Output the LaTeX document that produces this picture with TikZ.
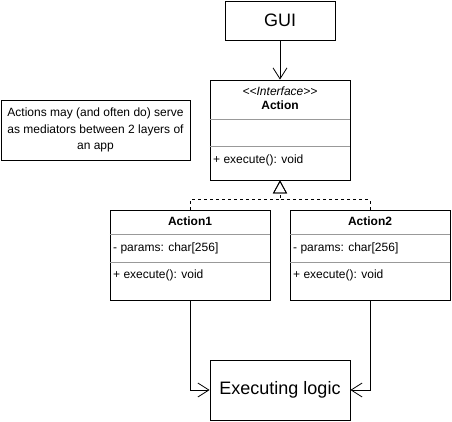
\documentclass[tikz,border=0pt]{standalone}
\usepackage{fontspec}
\setmainfont{Liberation Sans}
\usetikzlibrary{arrows.meta,positioning}

\begin{document}
\begin{tikzpicture}[x=1pt, y=-1pt,
    box/.style={rectangle, draw=black, line width=0.8pt, fill=white, inner sep=0pt},
    big/.style={font=\fontsize{18}{22}\selectfont},
    member/.style={font=\fontsize{12}{14}\selectfont, anchor=west, inner sep=0pt},
    title/.style={font=\fontsize{12}{14}\selectfont\bfseries, inner sep=0pt},
    sep/.style={line width=0.8pt, black!40},
    uses/.style={line width=0.8pt, -{Straight Barb[length=11pt,width=14pt]}},
    realizes/.style={line width=0.8pt, dash pattern=on 3pt off 3pt, -{Triangle[open,length=13pt,width=14pt]}}
  ]
    \useasboundingbox (0,0) rectangle (452,422);

    % Layers
    \node[box, big, minimum width=110, minimum height=39] (gui) at (280,20.5) {GUI};
    \node[box, big, minimum width=140, minimum height=60] (logic) at (280,390) {Executing logic};

    % Note
    \node[box, minimum width=189, minimum height=60, align=center, font=\fontsize{12}{16.5}\selectfont] (note) at (95.5,130) {Actions may (and often do) serve\\as mediators between 2 layers of\\an app};

    % Interface
    \node[box, minimum width=140, minimum height=100] (action) at (280,130) {};
    \node[font=\fontsize{12}{14}\selectfont\itshape, inner sep=0pt] (stereo) at (280,91) {<\kern0pt<Interface>\kern0pt>};
    \node[title] (actiontitle) at (280,105) {Action};
    \draw[sep] (action.west |- 0,119) -- (action.east |- 0,119);
    \draw[sep] (action.west |- 0,146) -- (action.east |- 0,146);
    \node[member] (actionop) at (213,160) {+ execute(): void};

    % Implementations
    \foreach \n/\x in {1/190, 2/370} {
      \node[box, minimum width=160, minimum height=90] (action\n) at (\x,255) {};
      \node[title] (action\n title) at (\x,221) {Action\n};
      \draw[sep] (action\n.west |- 0,234) -- (action\n.east |- 0,234);
      \node[member] (action\n attr) at (\x-77,248) {- params: char[256]};
      \draw[sep] (action\n.west |- 0,262) -- (action\n.east |- 0,262);
      \node[member] (action\n op) at (\x-77,275) {+ execute(): void};
    }

    % Connectors
    \draw[uses] (gui) -- (action);
    \draw[realizes] (action1.north) -- ++(0,-10) -| (action.south);
    \draw[realizes] (action2.north) -- ++(0,-10) -| (action.south);
    \draw[uses] (action1.south) |- (logic.west);
    \draw[uses] (action2.south) |- (logic.east);
  \end{tikzpicture}
\end{document}
